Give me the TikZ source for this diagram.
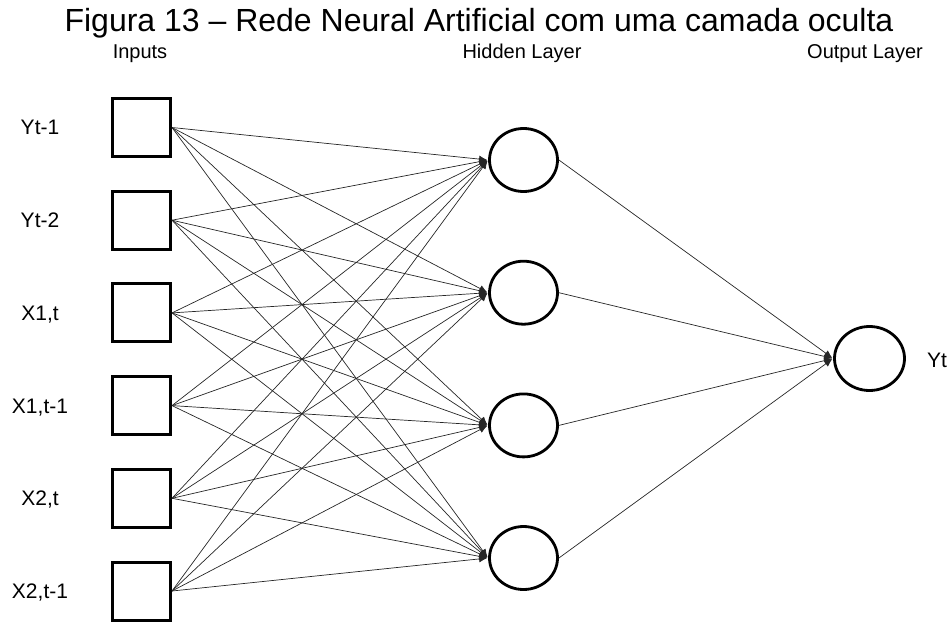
\documentclass[tikz,border=0pt]{standalone}
\usepackage{fontspec}
\setmainfont{Liberation Sans}
\usetikzlibrary{arrows.meta,shapes.geometric}
\begin{document}
\begin{tikzpicture}[x=1pt,y=-1pt,
  inbox/.style={draw, line width=3pt, minimum size=58pt, inner sep=0pt},
  neuron/.style={draw, ellipse, line width=2.8pt, minimum width=68pt, minimum height=63pt, inner sep=0pt},
  outneuron/.style={draw, ellipse, line width=2.8pt, minimum width=70pt, minimum height=64pt, inner sep=0pt},
  conn/.style={line width=0.7pt, draw=black!85, -{Latex[length=8pt,width=7pt]}, shorten >=1pt},
  lbl/.style={font=\fontsize{21}{24}\selectfont, anchor=base, inner sep=0pt},
  hdr/.style={font=\fontsize{20}{24}\selectfont, anchor=base, inner sep=0pt},
  ttl/.style={font=\fontsize{32}{36}\selectfont, anchor=base, inner sep=0pt}]
\useasboundingbox (0,0) rectangle (950,623);

\node[ttl] (title) at (479,32) {Figura 13 – Rede Neural Artificial com uma camada oculta};
\node[hdr] (hin) at (140,59) {Inputs};
\node[hdr] (hhid) at (522,59) {Hidden Layer};
\node[hdr] (hout) at (865,59) {Output Layer};

\foreach \i/\y/\t in {1/127.5/Yt-1, 2/220.2/Yt-2, 3/312.9/{X1,t}, 4/405.6/{X1,t-1}, 5/498.3/{X2,t}, 6/591/{X2,t-1}} {
  \node[inbox] (in\i) at (141.5,\y) {};
  \node[lbl] (lab\i) at (40,\y+7.5) {\t};
}

\foreach \j/\y in {1/160, 2/292.7, 3/425.4, 4/558} {
  \node[neuron] (h\j) at (523.5,\y) {};
}

\node[outneuron] (out) at (869.5,358.5) {};
\node[lbl] (ylab) at (937,367) {Yt};

\foreach \i in {1,...,6} {
  \foreach \j in {1,...,4} {
    \draw[conn] (in\i.east) -- (h\j.west);
  }
}
\foreach \j in {1,...,4} {
  \draw[conn] (h\j.east) -- (out.west);
}
\end{tikzpicture}
\end{document}
